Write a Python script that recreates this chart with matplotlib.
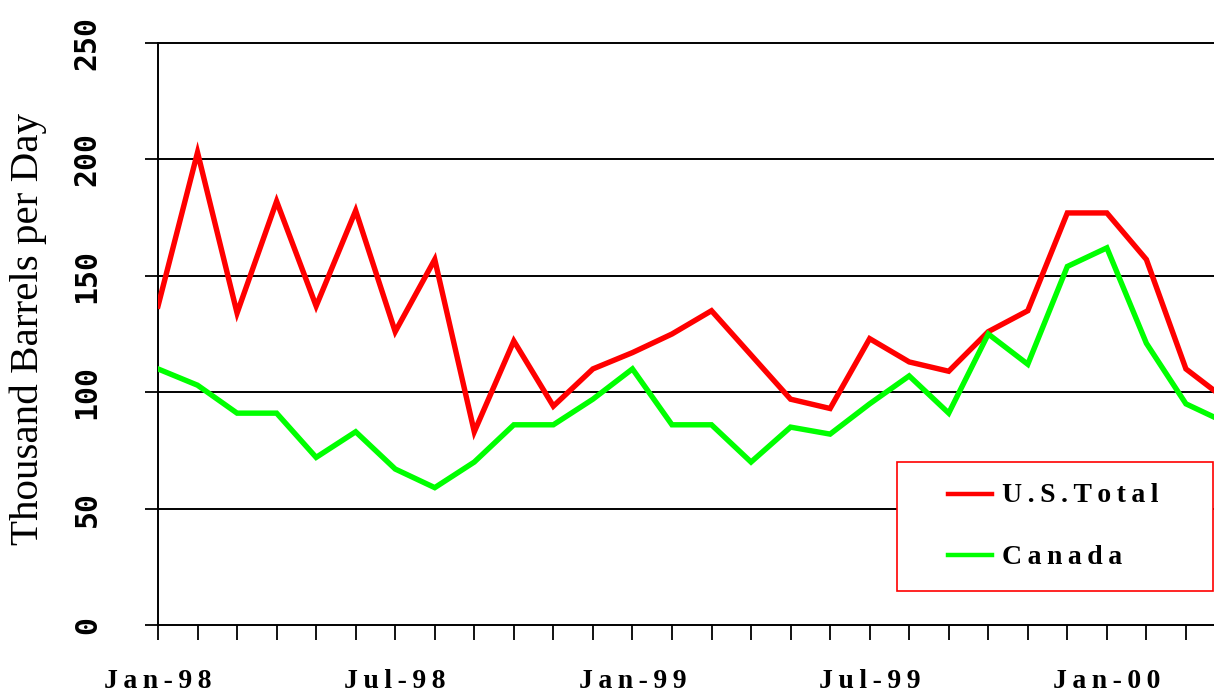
import matplotlib
matplotlib.use("Agg")
import matplotlib.pyplot as plt
from matplotlib.patches import Rectangle
from matplotlib.lines import Line2D

# Monthly imports, Jan-98 through Apr-00 (thousand barrels per day)
months = ["Jan-98", "Feb-98", "Mar-98", "Apr-98", "May-98", "Jun-98",
          "Jul-98", "Aug-98", "Sep-98", "Oct-98", "Nov-98", "Dec-98",
          "Jan-99", "Feb-99", "Mar-99", "Apr-99", "May-99", "Jun-99",
          "Jul-99", "Aug-99", "Sep-99", "Oct-99", "Nov-99", "Dec-99",
          "Jan-00", "Feb-00", "Mar-00", "Apr-00"]
us_total = [137, 203, 134, 182, 137, 178, 126, 157, 83, 122, 94, 110,
            117, 125, 135, 116, 97, 93, 123, 113, 109, 126, 135, 177,
            177, 157, 110, 97]
canada = [110, 103, 91, 91, 72, 83, 67, 59, 70, 86, 86, 97,
          110, 86, 86, 70, 85, 82, 95, 107, 91, 125, 112, 154,
          162, 121, 95, 87]
series_names = ["U.S. Total", "Canada"]
y_ticks = [0, 50, 100, 150, 200, 250]
labelled_months = ["Jan-98", "Jul-98", "Jan-99", "Jul-99", "Jan-00"]

W, H = 1214, 694
fig = plt.figure(figsize=(W / 100, H / 100), dpi=100)
fig.patch.set_facecolor("white")

def fx(px):
    return px / W

def fy(py):
    return 1 - py / H

def spaced(s, gap="\u2009"):
    return gap.join(s)

serif_bold = dict(family=["Liberation Serif", "DejaVu Serif"], weight="bold")

ax = fig.add_axes([fx(158), fy(625), fx(1214 - 158), (625 - 43) / H])
x = list(range(len(months)))

l_us, = ax.plot(x, us_total, color="#ff0000", lw=3.9, solid_joinstyle="miter", zorder=3)
l_ca, = ax.plot(x, canada, color="#00ff00", lw=3.9, solid_joinstyle="miter", zorder=3)

ax.set_ylim(0, 250)
ax.set_xlim(0, 26.71)

ax.set_yticks(y_ticks)
ax.set_yticklabels([str(v) for v in y_ticks], rotation=90, va="center",
                   family=["DejaVu Sans Mono", "Liberation Mono"],
                   weight="bold", fontsize=21.5)
ax.set_xticks(x[:27])
ax.set_xticklabels([spaced(m) if m in labelled_months else "" for m in months[:27]],
                   fontsize=20, **serif_bold)

ax.tick_params(axis="y", direction="out", length=9.5, width=1.3, pad=31, colors="black")
ax.tick_params(axis="x", direction="out", length=11, width=1.3, pad=21, colors="black")

for v in y_ticks[1:-1]:
    ax.axhline(v, color="black", lw=1.4, zorder=1)

ax.spines["right"].set_visible(False)
for side in ("left", "bottom", "top"):
    ax.spines[side].set_linewidth(1.4)
    ax.spines[side].set_color("black")

fig.text(fx(28), fy(329), "Thousand Barrels per Day", rotation=90,
         ha="center", va="center", fontsize=29.5,
         family=["Liberation Serif", "DejaVu Serif"])

# Legend box
fig.patches.append(Rectangle((fx(897), fy(591)), fx(1213 - 897), (591 - 462) / H,
                             transform=fig.transFigure, facecolor="white",
                             edgecolor="#ff0000", lw=1.2, zorder=5))
for line, name, py in ((l_us, series_names[0], 494), (l_ca, series_names[1], 555)):
    fig.lines.append(Line2D([fx(948), fx(992)], [fy(py), fy(py)],
                            transform=fig.transFigure, color=line.get_color(),
                            lw=3.2, zorder=6))
    fig.text(fx(1002), fy(py + 2), spaced(name.replace(" ", "")),
             ha="left", va="center", fontsize=20, zorder=6, **serif_bold)

fig.savefig("out.png", dpi=100, facecolor="white")
